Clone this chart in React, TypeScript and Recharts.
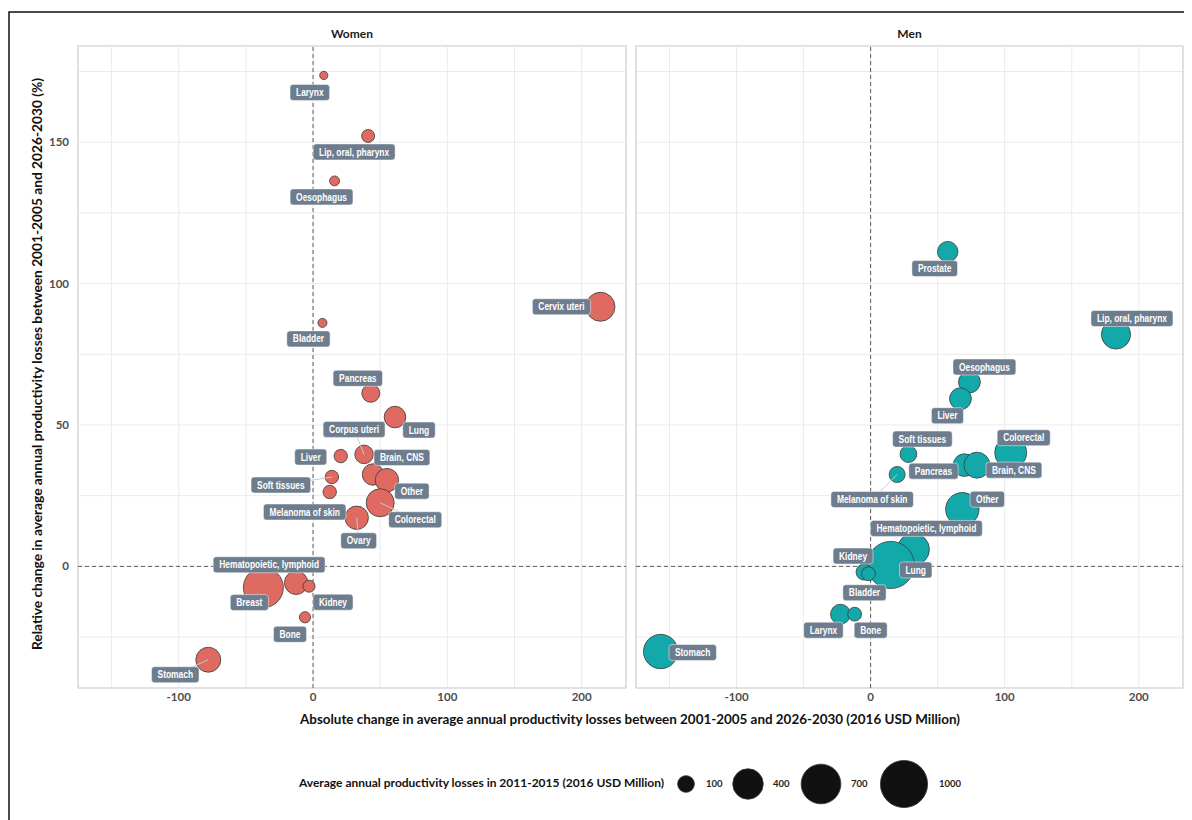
import React from 'react'
import {
  ScatterChart, Scatter, XAxis, YAxis, ZAxis, CartesianGrid, ReferenceLine, ReferenceArea
} from 'recharts'

// Women
const womenSites = [
  'Larynx', 'Lip, oral, pharynx', 'Oesophagus', 'Cervix uteri', 'Bladder', 'Pancreas', 'Lung',
  'Corpus uteri', 'Brain, CNS', 'Liver', 'Soft tissues', 'Other', 'Melanoma of skin', 'Colorectal',
  'Ovary', 'Hematopoietic, lymphoid', 'Breast', 'Kidney', 'Bone', 'Stomach',
]
const womenAbsChange = [8, 41, 16, 214, 7, 43, 61, 38, 44.6, 20.6, 14, 55, 12.4, 50, 32.5, -12.6, -37, -3, -6, -78]
const womenRelChange = [173.6, 152.2, 136.3, 91.8, 86.1, 61.2, 52.8, 39.6, 32.5, 39, 31.6, 30.5, 26.3, 22.5, 17.2, -5.8, -7.5, -7, -18, -33]
const womenLosses = [2, 49, 16, 359, 8, 120, 186, 130, 182, 54, 54, 224, 54, 333, 224, 224, 710, 38, 29, 259]

// Men
const menSites = [
  'Prostate', 'Lip, oral, pharynx', 'Oesophagus', 'Liver', 'Soft tissues', 'Melanoma of skin', 'Pancreas',
  'Brain, CNS', 'Colorectal', 'Other', 'Hematopoietic, lymphoid', 'Lung', 'Kidney', 'Bladder', 'Larynx',
  'Bone', 'Stomach',
]
const menAbsChange = [57.5, 183, 73.7, 67, 28.2, 19.8, 70, 79.3, 104.5, 68.4, 31.9, 15, -4.9, -1.6, -22.5, -11.9, -156.6]
const menRelChange = [111.3, 82, 65.2, 59.3, 39.7, 32.5, 35.8, 35.8, 40.2, 20.2, 6, 0.5, -2, -2.6, -16.9, -16.9, -30.1]
const menLosses = [163, 364, 190, 190, 101, 89, 207, 283, 444, 486, 444, 1000, 89, 60, 152, 59, 517]

const legendBreaks = [100, 400, 700, 1000]

const X_DOMAIN = [-175, 233]
const Y_DOMAIN = [-43, 184]
const X_TICKS = [-150, -100, -50, 0, 50, 100, 150, 200]
const Y_TICKS = [-25, 0, 25, 50, 75, 100, 125, 150, 175]

// bubble area scale (px^2) shared by both panels and the legend
const Z_DOMAIN = [0, 1000]
const Z_RANGE = [50, 1750]
const bubbleRadius = (v: number) =>
  Math.sqrt((Z_RANGE[0] + ((v - Z_DOMAIN[0]) / (Z_DOMAIN[1] - Z_DOMAIN[0])) * (Z_RANGE[1] - Z_RANGE[0])) / Math.PI)

// label offsets from the bubble centre: [dx, dy, draw segment]
type Nudge = [number, number, boolean?]
const womenNudge: Record<string, Nudge> = {
  'Larynx': [-14, 17],
  'Lip, oral, pharynx': [-14, 16],
  'Oesophagus': [-13, 16],
  'Cervix uteri': [-39, 0],
  'Bladder': [-14, 16],
  'Pancreas': [-13, -15],
  'Lung': [24, 13],
  'Corpus uteri': [-10, -25, true],
  'Brain, CNS': [29, -17],
  'Liver': [-30, 1],
  'Soft tissues': [-51, 8, true],
  'Other': [25, 11],
  'Melanoma of skin': [-25, 20],
  'Colorectal': [35, 17, true],
  'Ovary': [2, 23, true],
  'Hematopoietic, lymphoid': [-27, -18],
  'Breast': [-14, 15],
  'Kidney': [24, 16],
  'Bone': [-15, 17],
  'Stomach': [-33, 15, true],
}
const menNudge: Record<string, Nudge> = {
  'Prostate': [-13, 17],
  'Lip, oral, pharynx': [16, -16],
  'Oesophagus': [15, -15],
  'Liver': [-13, 17],
  'Soft tissues': [14, -15],
  'Melanoma of skin': [-25, 25, true],
  'Pancreas': [-31, 6],
  'Brain, CNS': [37, 5],
  'Colorectal': [13, -15],
  'Other': [25, -10],
  'Hematopoietic, lymphoid': [13, -21],
  'Lung': [25, 5],
  'Kidney': [-11, -16],
  'Bladder': [-4, 19],
  'Larynx': [-17, 16],
  'Bone': [16, 16],
  'Stomach': [32, 1],
}

const TITLE_FONT = 'Lato, "Open Sans", sans-serif'
const LABEL_FONT = '"Liberation Sans", Arial, sans-serif'
const LABEL_SQUEEZE = 0.84

const toRows = (sites: string[], abs: number[], rel: number[], loss: number[]) =>
  sites.map((site, i) => ({ site, abs: abs[i], rel: rel[i], loss: loss[i] }))

const womenRows = toRows(womenSites, womenAbsChange, womenRelChange, womenLosses)
const menRows = toRows(menSites, menAbsChange, menRelChange, menLosses)

let measureCtx: CanvasRenderingContext2D | null = null
function textWidth(text: string, font: string) {
  if (!measureCtx) measureCtx = document.createElement('canvas').getContext('2d')
  if (!measureCtx) return text.length * 5
  measureCtx.font = font
  return measureCtx.measureText(text).width
}

function makeLabel(nudge: Record<string, Nudge>) {
  return (props: any) => {
    const { cx, cy, payload } = props
    const [dx, dy, seg] = nudge[payload.site] ?? [0, 16]
    // narrow the label text to a condensed width
    const tw = textWidth(payload.site, `bold 10px ${LABEL_FONT}`) * LABEL_SQUEEZE
    const w = tw + 12
    const h = 16
    const lx = cx + dx
    const ly = cy + dy
    return (
      <g>
        {seg && <line x1={cx} y1={cy} x2={lx} y2={ly} stroke="#c9c9c9" strokeWidth={1} />}
        <rect x={lx - w / 2} y={ly - h / 2} width={w} height={h} rx={3} fill="#6d7d8e"
          stroke="#ffffff" strokeOpacity={0.6} strokeWidth={0.8} />
        <text x={lx} y={ly} dy="0.36em" textAnchor="middle" fill="#ffffff" fontSize={10}
          fontWeight="bold" fontFamily={LABEL_FONT} textLength={tw} lengthAdjust="spacingAndGlyphs">
          {payload.site}
        </text>
      </g>
    )
  }
}

const tickStyle = { fill: '#4d4d4d', fontSize: 11.5, fontWeight: 700, fontFamily: TITLE_FONT }

function Panel({ rows, color, nudge, showY, width, margin }: {
  rows: typeof womenRows; color: string; nudge: Record<string, Nudge>; showY: boolean
  width: number; margin: { top: number; right: number; bottom: number; left: number }
}) {
  return (
    <ScatterChart width={width} height={698} margin={margin}>
      <CartesianGrid stroke="#ebebeb" strokeWidth={1} />
      <XAxis type="number" dataKey="abs" domain={X_DOMAIN} ticks={X_TICKS} interval={0}
        allowDataOverflow tickFormatter={(v) => (v % 100 === 0 ? String(v) : '')}
        axisLine={false} tickLine={false} tickSize={0} tickMargin={5} height={30} tick={tickStyle} />
      <YAxis type="number" dataKey="rel" domain={Y_DOMAIN} ticks={Y_TICKS} interval={0}
        allowDataOverflow tickFormatter={(v) => (showY && v % 50 === 0 ? String(v) : '')}
        axisLine={false} tickLine={false} tickSize={0} tickMargin={9} width={showY ? 70 : 0}
        tick={tickStyle} />
      <ZAxis type="number" dataKey="loss" domain={Z_DOMAIN} range={Z_RANGE} />
      <ReferenceArea x1={X_DOMAIN[0]} x2={X_DOMAIN[1]} y1={Y_DOMAIN[0]} y2={Y_DOMAIN[1]}
        fill="none" stroke="#d2d2d2" strokeWidth={1.2} />
      <ReferenceLine x={0} stroke="#5c5c5c" strokeDasharray="4 3" strokeWidth={1} />
      <ReferenceLine y={0} stroke="#5c5c5c" strokeDasharray="4 3" strokeWidth={1} />
      <Scatter data={rows} fill={color} stroke="#3a3a3a" strokeWidth={0.8} isAnimationActive={false} />
      <Scatter data={rows} shape={makeLabel(nudge)} isAnimationActive={false} />
    </ScatterChart>
  )
}

export default function App() {
  const legendX = [686, 748, 821, 904]
  const legendTextX = [706, 773, 851, 939]
  return (
    <div style={{ position: 'relative', width: 1184, height: 812, overflow: 'hidden', background: '#fff' }}>
      <div style={{ position: 'absolute', left: 0, top: 12 }}>
        <Panel rows={womenRows} color="#df6a61" nudge={womenNudge} showY width={620}
          margin={{ top: 26, right: 2, bottom: 0, left: 0 }} />
      </div>
      <div style={{ position: 'absolute', left: 622, top: 12 }}>
        <Panel rows={menRows} color="#13a9ab" nudge={menNudge} showY={false} width={560}
          margin={{ top: 26, right: 7, bottom: 0, left: 6 }} />
      </div>
      <svg width={1184} height={812} style={{ position: 'absolute', left: 0, top: 0, pointerEvents: 'none' }}>
        <path d="M1 812 L1 4 L1184 4" fill="none" stroke="#111" strokeWidth={1.5} />
        <text x={344} y={26} dy="0.35em" textAnchor="middle" fontSize={12} fontWeight="bold"
          fontFamily={TITLE_FONT} fill="#1a1a1a">Women</text>
        <text x={901.5} y={26} dy="0.35em" textAnchor="middle" fontSize={12} fontWeight="bold"
          fontFamily={TITLE_FONT} fill="#1a1a1a">Men</text>
        <text x={622} y={711} dy="0.35em" textAnchor="middle" fontSize={13} fontWeight="bold"
          fontFamily={TITLE_FONT} fill="#111" textLength={660} lengthAdjust="spacingAndGlyphs">
          Absolute change in average annual productivity losses between 2001-2005 and 2026-2030 (2016 USD Million)
        </text>
        <text transform="translate(29 356) rotate(-90)" dy="0.35em" textAnchor="middle" fontSize={13}
          fontWeight="bold" fontFamily={TITLE_FONT} fill="#111" textLength={572} lengthAdjust="spacingAndGlyphs">
          Relative change in average annual productivity losses between 2001-2005 and 2026-2030 (%)
        </text>
        <text x={291} y={775} dy="0.35em" fontSize={11.5} fontWeight="bold" fontFamily={TITLE_FONT}
          fill="#111" textLength={365} lengthAdjust="spacingAndGlyphs">
          Average annual productivity losses in 2011-2015 (2016 USD Million)
        </text>
        {legendBreaks.map((b, i) => (
          <g key={b}>
            <circle cx={legendX[i] - 8} cy={776} r={bubbleRadius(b)} fill="#111" stroke="#333" strokeWidth={0.8} />
            <text x={legendTextX[i] - 8} y={776} dy="0.35em" fontSize={9.5} fontWeight="bold"
              fontFamily={TITLE_FONT} fill="#222">{b}</text>
          </g>
        ))}
      </svg>
    </div>
  )
}
